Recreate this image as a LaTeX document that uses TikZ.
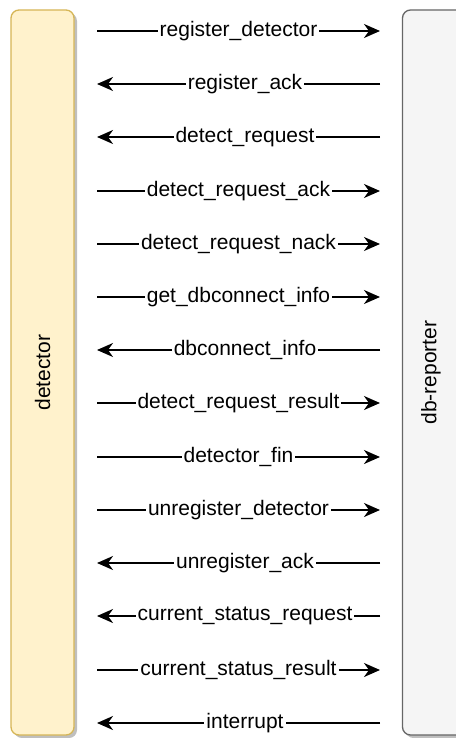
\documentclass[tikz,border=0pt]{standalone}
\usepackage{fontspec}
\setmainfont{Liberation Sans}
\usetikzlibrary{arrows.meta,shadows}
\definecolor{detfill}{HTML}{FFF2CC}
\definecolor{detline}{HTML}{D6B656}
\definecolor{repfill}{HTML}{F5F5F5}
\definecolor{repline}{HTML}{666666}

\begin{document}
\begin{tikzpicture}[x=1pt,y=-1pt]
            \tikzset{
            lane node/.style={draw,rounded corners=8pt,line width=1.3pt,minimum width=63pt,minimum height=725pt,inner sep=0,
              drop shadow={shadow xshift=3pt,shadow yshift=-3pt,fill=black!25,opacity=1}},
            lane label/.style={rotate=90,font=\fontsize{21}{24}\selectfont},
            msg edge/.style={line width=1.8pt,-{Stealth[length=16pt,width=14pt,inset=5pt]}},
            msg label/.style={fill=white,inner sep=2pt,font=\fontsize{21}{24}\selectfont}
            }
            \useasboundingbox (0,0) rectangle (455,738);
            \node[lane node,fill=detfill,draw=detline] (det) at (42.5,372.5) {};
            \node[lane node,fill=repfill,draw=repline] (rep) at (434,372.5) {};
            \node[lane label] (detlabel) at (det.center) {detector};
            \node[lane label] (replabel) at (431,372.5) {db-reporter};

            \coordinate (l1) at (97,31);   \coordinate (r1) at (380,31);
            \coordinate (l2) at (97,84);   \coordinate (r2) at (380,84);
            \coordinate (l3) at (97,137);  \coordinate (r3) at (380,137);
            \coordinate (l4) at (97,191);  \coordinate (r4) at (380,191);
            \coordinate (l5) at (97,244);  \coordinate (r5) at (380,244);
            \coordinate (l6) at (97,297);  \coordinate (r6) at (380,297);
            \coordinate (l7) at (97,350);  \coordinate (r7) at (380,350);
            \coordinate (l8) at (97,403);  \coordinate (r8) at (380,403);
            \coordinate (l9) at (97,457);  \coordinate (r9) at (380,457);
            \coordinate (l10) at (97,510); \coordinate (r10) at (380,510);
            \coordinate (l11) at (97,563); \coordinate (r11) at (380,563);
            \coordinate (l12) at (97,616); \coordinate (r12) at (380,616);
            \coordinate (l13) at (97,670); \coordinate (r13) at (380,670);
            \coordinate (l14) at (97,723); \coordinate (r14) at (380,723);

            \path[-]
            (l1) edge[msg edge] node[msg label] {register\_detector} (r1)
            (r2) edge[msg edge] node[msg label,pos=0.477] {register\_ack} (l2)
            (r3) edge[msg edge] node[msg label,pos=0.477] {detect\_request} (l3)
            (l4) edge[msg edge] node[msg label] {detect\_request\_ack} (r4)
            (l5) edge[msg edge] node[msg label] {detect\_request\_nack} (r5)
            (l6) edge[msg edge] node[msg label] {get\_dbconnect\_info} (r6)
            (r7) edge[msg edge] node[msg label,pos=0.477] {dbconnect\_info} (l7)
            (l8) edge[msg edge] node[msg label] {detect\_request\_result} (r8)
            (l9) edge[msg edge] node[msg label] {detector\_fin} (r9)
            (l10) edge[msg edge] node[msg label] {unregister\_detector} (r10)
            (r11) edge[msg edge] node[msg label,pos=0.477] {unregister\_ack} (l11)
            (r12) edge[msg edge] node[msg label,pos=0.477] {current\_status\_request} (l12)
            (l13) edge[msg edge] node[msg label] {current\_status\_result} (r13)
            (r14) edge[msg edge] node[msg label,pos=0.477] {interrupt} (l14)
            ;
        \end{tikzpicture}
\end{document}
